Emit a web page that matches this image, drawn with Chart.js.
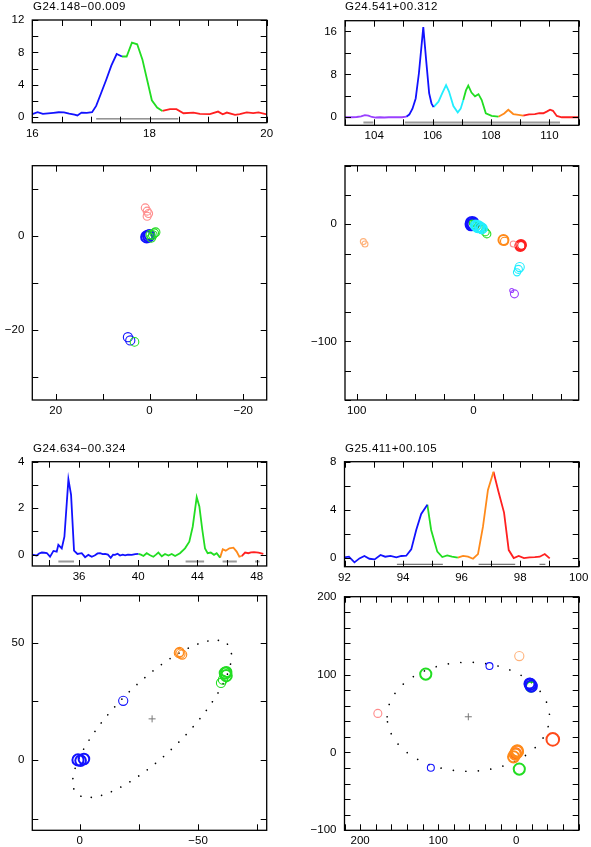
<!DOCTYPE html>
<html>
<head>
<meta charset="utf-8">
<script src="https://cdn.jsdelivr.net/npm/chart.js@4.4.0/dist/chart.umd.min.js"></script>
<style>
  html, body { margin: 0; padding: 0; background: #fff; }
  #page { position: relative; width: 591px; height: 847px; overflow: hidden; }
  canvas { position: absolute; left: -20px; top: -20px; }
  .ttl { position: absolute; z-index: 5; font: 11.5px "Liberation Sans", Arial, sans-serif; letter-spacing: 0.5px;
         line-height: 12px; white-space: nowrap; color: #000; }
</style>
</head>
<body>
<div id="page">
  <div class="ttl" style="left:33px;top:0px">G24.148−00.009</div>
  <div class="ttl" style="left:345px;top:0px">G24.541+00.312</div>
  <div class="ttl" style="left:33px;top:441.5px">G24.634−00.324</div>
  <div class="ttl" style="left:345px;top:441.5px">G25.411+00.105</div>
  <canvas id="s1" width="631" height="887"></canvas>
  <canvas id="s2" width="631" height="887"></canvas>
  <canvas id="m1" width="631" height="887"></canvas>
  <canvas id="m2" width="631" height="887"></canvas>
  <canvas id="s3" width="631" height="887"></canvas>
  <canvas id="s4" width="631" height="887"></canvas>
  <canvas id="m3" width="631" height="887"></canvas>
  <canvas id="m4" width="631" height="887"></canvas>
</div>
<script>
(function () {
  "use strict";

  // ---- spectra: [velocity km/s, flux Jy] per colour segment ----
  // G24.148-00.009
  const S1_BLUE = [[16.00,0.40],[16.09,0.62],[16.18,0.42],[16.27,0.48],[16.36,0.55],[16.45,0.62],[16.54,0.60],
    [16.63,0.45],[16.72,0.32],[16.77,0.22],[16.84,0.58],[16.93,0.55],[17.02,0.62],[17.09,1.4],[17.17,2.9],
    [17.26,4.6],[17.35,6.4],[17.44,7.8],[17.53,7.5]];
  const S1_GREEN = [[17.53,7.5],[17.61,7.5],[17.70,9.2],[17.79,9.0],[17.88,7.1],[17.96,4.6],[18.04,2.1],
    [18.13,1.2],[18.22,0.78]];
  const S1_RED = [[18.22,0.78],[18.35,1.0],[18.46,1.0],[18.58,0.5],[18.75,0.58],[18.86,0.42],[19.03,0.4],
    [19.17,0.7],[19.25,0.37],[19.32,0.58],[19.46,0.3],[19.54,0.4],[19.66,0.6],[19.77,0.5],[19.86,0.6],[20.0,0.37]];
  const S1_RANGE = [[17.09,-0.2],[18.49,-0.2]];

  // G24.541+00.312
  const S2_PURPLE = [[103.0,0.0],[103.2,0.0],[103.4,0.05],[103.55,0.15],[103.68,0.4],[103.8,0.3],[103.92,0.05],
    [104.05,-0.05],[104.2,0.0],[104.35,-0.05],[104.5,0.0],[104.65,0.0],[104.8,0.0],[104.95,0.0],[105.1,0.1]];
  const S2_BLUE = [[105.1,0.1],[105.2,0.5],[105.31,1.6],[105.42,3.5],[105.53,8.2],[105.68,16.8],[105.78,10.5],
    [105.88,4.5],[105.96,2.6],[106.03,1.9]];
  const S2_CYAN = [[106.03,1.9],[106.2,2.9],[106.33,4.5],[106.46,6.0],[106.56,4.8],[106.71,2.1],[106.86,0.9],
    [106.96,1.6],[107.05,3.2]];
  const S2_GREEN = [[107.05,3.2],[107.14,5.0],[107.22,5.9],[107.33,4.6],[107.45,3.9],[107.57,4.3],[107.68,3.2],
    [107.82,0.75],[108.02,0.25],[108.25,0.1]];
  const S2_ORANGE = [[108.25,0.1],[108.45,0.7],[108.59,1.4],[108.76,0.6],[108.94,0.45],[109.1,0.3]];
  const S2_RED = [[109.1,0.3],[109.3,0.55],[109.5,0.6],[109.65,0.75],[109.79,0.75],[109.92,1.1],[110.02,1.4],
    [110.12,1.2],[110.25,0.25],[110.42,0.0],[110.7,0.0],[111.0,0.0]];
  const S2_RANGE_A = [[103.63,-1.0],[103.97,-1.0]];
  const S2_RANGE_B = [[105.05,-1.0],[110.36,-1.0]];

  // G24.634-00.324
  const S3_BLUE = [[32.85,0.0],[33.0,-0.02],[33.14,-0.04],[33.3,0.05],[33.48,0.09],[33.65,0.08],[33.82,0.07],
    [34.04,-0.09],[34.27,0.16],[34.49,0.13],[34.60,0.42],[34.83,0.27],[35.01,0.77],[35.28,3.24],[35.46,2.57],
    [35.66,0.17],[35.89,0.03],[36.18,0.06],[36.41,-0.11],[36.63,-0.01],[36.86,-0.09],[37.08,-0.03],[37.25,0.05],
    [37.42,0.06],[37.6,0.02],[37.76,0.03],[37.95,0.0],[38.14,-0.14],[38.3,0.0],[38.43,-0.01],[38.6,0.04],
    [38.77,-0.04],[38.95,0.0],[39.11,-0.03],[39.3,0.0],[39.56,-0.01],[39.8,0.02],[40.01,0.03]];
  const S3_GREEN = [[40.01,0.03],[40.18,0.0],[40.35,-0.06],[40.57,0.06],[40.80,-0.03],[41.02,-0.09],[41.2,0.0],
    [41.36,0.09],[41.59,-0.07],[41.81,0.03],[42.04,-0.04],[42.26,0.03],[42.49,-0.06],[42.82,0.06],[43.16,0.27],
    [43.45,0.56],[43.68,1.2],[43.95,2.47],[44.13,2.07],[44.33,1.06],[44.51,0.27],[44.69,0.06],[44.90,0.09],
    [45.12,-0.01],[45.30,0.06],[45.53,-0.13]];
  const S3_ORANGE = [[45.53,-0.13],[45.71,0.23],[45.91,0.17],[46.16,0.27],[46.43,0.30],[46.65,0.13],[46.83,-0.09],
    [46.99,-0.06]];
  const S3_RED = [[46.99,-0.06],[47.22,0.09],[47.44,0.06],[47.62,0.1],[47.82,0.11],[48.12,0.09],[48.45,0.03]];
  const S3_RANGES = [[[34.6,-0.3],[35.66,-0.3]],[[43.2,-0.3],[44.45,-0.3]],[[45.7,-0.3],[46.66,-0.3]],
    [[47.9,-0.3],[48.2,-0.3]]];

  // G25.411+00.105
  const S4_BLUE = [[92.0,0.06],[92.15,0.11],[92.34,-0.36],[92.51,-0.03],[92.68,0.17],[92.85,-0.06],[93.03,-0.11],
    [93.23,0.25],[93.39,0.11],[93.57,0.17],[93.77,0.06],[93.94,0.17],[94.11,0.19],[94.28,0.72],[94.45,2.33],
    [94.62,3.66],[94.83,4.43]];
  const S4_GREEN = [[94.83,4.43],[94.96,2.33],[95.17,0.53],[95.34,0.08],[95.51,0.22],[95.67,0.11],[95.87,0.03]];
  const S4_ORANGE = [[95.87,0.03],[96.05,0.17],[96.22,0.11],[96.39,-0.06],[96.56,0.33],[96.73,2.6],[96.90,5.65],
    [97.09,7.17]];
  const S4_RED = [[97.09,7.17],[97.26,5.5],[97.45,3.77],[97.61,0.66],[97.78,0.0],[97.95,0.17],[98.13,0.0],
    [98.32,0.06],[98.50,0.08],[98.67,0.11],[98.84,0.33],[99.01,-0.03]];
  const S4_RANGES = [[[93.79,-0.52],[95.36,-0.52]],[[96.58,-0.52],[97.83,-0.52]],[[98.66,-0.52],[98.86,-0.52]]];

  // ---- spot maps: [RA offset mas, Dec offset mas, flux Jy] ----
  const M1_RED = [[0.9,6.0,2],[0.5,5.3,2],[0.2,4.8,2],[0.5,4.2,2]];
  const M1_GREEN = [[-0.4,-0.4,2.5],[-0.7,0.2,2.5],[-1.0,0.6,2.5],[-1.3,0.8,2.5],[-0.2,0.3,2.5],[3.2,-22.6,2.5]];
  const M1_BLUE = [[0.2,0.0,6],[0.6,-0.2,6],[0.0,0.2,4],[4.6,-21.6,3],[4.1,-22.3,3]];

  const M2_PALE_ORANGE = [[94.3,-14.8,1],[92.9,-16.8,1]];
  const M2_BLUE = [[1.2,0.8,11],[0.3,0.2,6],[2.0,-0.4,6]];
  const M2_GREEN = [[1.0,1.0,1],[-0.2,0.4,1],[-4,-3,2],[-7,-4.5,2],[-10,-6.5,2],[-11.4,-8.2,2]];
  const M2_CYAN = [[-3.7,-2,6],[-5.5,-2.5,4],[-7.1,-3.5,4],[-2,-1,4],[-39.5,-36.5,3],[-38.4,-38.5,2],[-37.2,-41,1.5]];
  const M2_ORANGE = [[-25.6,-13.4,4],[-26.5,-14.5,2]];
  const M2_PALE_RED = [[-34,-16.8,1]];
  const M2_RED = [[-40.6,-17.6,4],[-40,-18.5,4],[-41.2,-18,2]];
  const M2_PURPLE = [[-35,-59.4,2],[-32.7,-56.5,0.5]];

  const M3_BLUE = [[0.7,0.0,6],[-0.4,-0.3,5],[-1.8,0.4,5],[-18.4,25.2,3]];
  const M3_ORANGE = [[-41.9,45.6,3],[-42.6,45.3,3],[-43.3,44.9,3],[-42.2,46.0,3]];
  const M3_GREEN = [[-61.5,37.0,6],[-61.9,35.9,6],[-60.5,34.2,3],[-59.7,32.8,3],[-62.0,37.5,4]];
  const M3_CENTRE = [[-30.6,17.5]];
  const M3_ELLIPSE = [-30.6, 17.5, 45, 15, 135]; // centre x, y, semi-major, semi-minor, angle (deg)

  const M4_PALE_ORANGE = [[-3.9,123.8,3]];
  const M4_BLUE = [[34.3,110.9,1.4],[109.4,-19.7,1.4],[-18,87.4,6],[-19.3,85.2,6],[-17,88.5,4]];
  const M4_GREEN = [[115.9,100.6,6],[-3.9,-21.4,6],[-18.9,84.4,4]];
  const M4_PALE_RED = [[177.3,50.1,2]];
  const M4_ORANGE = [[-0.9,0.9,8],[1.3,-2.1,6],[3.4,-5.6,6],[-1.5,2.0,6]];
  const M4_RED = [[-46.8,16.7,10],[0.5,-1.0,4]];
  const M4_CENTRE = [[61.4,45.8]];
  const M4_ELLIPSE = [61.4, 45.8, 104, 70, 0];

  // ---- ticks (labelled values) ----
  const S1_XT = [16, 18, 20], S1_YT = [0, 4, 8, 12];
  const S2_XT = [104, 106, 108, 110], S2_YT = [0, 8, 16];
  const M1_XT = [20, 0, -20], M1_YT = [0, -20];
  const M2_XT = [100, 0], M2_YT = [0, -100];
  const S3_XT = [36, 40, 44, 48], S3_YT = [0, 2, 4];
  const S4_XT = [92, 94, 96, 98, 100], S4_YT = [0, 4, 8];
  const M3_XT = [0, -50], M3_YT = [0, 50];
  const M4_XT = [200, 100, 0], M4_YT = [-100, 0, 100, 200];

  const COL = {
    blue: "#1212ff", green: "#22dd22", red: "#ff2020", orange: "#ff8a1a", cyan: "#22eeff",
    purple: "#9a40ff", paleOrange: "#ffb27a", paleRed: "#ff8c8c", grey: "#9a9a9a", dark: "#555555",
  };
  // canvases are 20px larger on every side than the page so axis labels are never clipped
  const OFF = 20, CW = 631, CH = 887, AXW = 45, AXH = 22;

  Chart.defaults.font.family = '"Liberation Sans", Arial, sans-serif';
  Chart.defaults.font.size = 11.5;
  Chart.defaults.color = "#000";

  function stepsIn(lo, hi, step) {
    const out = [];
    for (let k = Math.ceil(lo / step - 1e-9); k * step <= hi + 1e-9; k++) out.push(k * step);
    return out;
  }

  // box + inward ticks on all four sides, optional dotted ellipse
  const framePlugin = {
    id: "frame",
    beforeDatasetsDraw(chart, args, opts) {
      if (!opts.ellipse) return;
      const { ctx, scales: { x, y } } = chart;
      const [cx, cy, a, b, th] = opts.ellipse;
      const t0 = th * Math.PI / 180;
      ctx.save();
      ctx.beginPath();
      for (let i = 0; i <= 360; i++) {
        const t = i / 360 * 2 * Math.PI;
        const ex = cx + a * Math.cos(t) * Math.cos(t0) - b * Math.sin(t) * Math.sin(t0);
        const ey = cy + a * Math.cos(t) * Math.sin(t0) + b * Math.sin(t) * Math.cos(t0);
        const px = x.getPixelForValue(ex), py = y.getPixelForValue(ey);
        if (i) ctx.lineTo(px, py); else ctx.moveTo(px, py);
      }
      ctx.setLineDash([0.01, opts.dotGap || 10]);
      ctx.lineCap = "round";
      ctx.lineWidth = 1.7;
      ctx.strokeStyle = "#000";
      ctx.stroke();
      ctx.restore();
    },
    afterDraw(chart, args, opts) {
      const { ctx, chartArea: a, scales: { x, y } } = chart;
      const L = 6;
      ctx.save();
      ctx.strokeStyle = "#000";
      ctx.lineWidth = 1;
      ctx.beginPath();
      stepsIn(x.min, x.max, opts.xStep).forEach((v) => {
        const px = Math.round(x.getPixelForValue(v)) + 0.5;
        ctx.moveTo(px, a.top); ctx.lineTo(px, a.top + L);
        ctx.moveTo(px, a.bottom); ctx.lineTo(px, a.bottom - L);
      });
      stepsIn(y.min, y.max, opts.yStep).forEach((v) => {
        const py = Math.round(y.getPixelForValue(v)) + 0.5;
        ctx.moveTo(a.left, py); ctx.lineTo(a.left + L, py);
        ctx.moveTo(a.right, py); ctx.lineTo(a.right - L, py);
      });
      ctx.stroke();
      ctx.lineWidth = 1.3;
      ctx.strokeRect(a.left, a.top, a.right - a.left, a.bottom - a.top);
      ctx.restore();
    },
  };

  const fmt = (v) => String(v).replace("-", "\u2212");

  // box = [left, top, right, bottom] of the plot frame in page pixels
  function panel(id, type, box, xr, yr, xTicks, yTicks, steps, datasets, extra) {
    const l = box[0] + OFF, t = box[1] + OFF, r = box[2] + OFF, b = box[3] + OFF;
    new Chart(document.getElementById(id), {
      type: type,
      data: { datasets: datasets },
      options: {
        responsive: false,
        animation: false,
        events: [],
        layout: { padding: { left: l - AXW, top: t, right: CW - r, bottom: CH - b - AXH } },
        plugins: {
          legend: { display: false },
          tooltip: { enabled: false },
          frame: Object.assign({ xStep: steps[0], yStep: steps[1] }, extra || {}),
        },
        scales: {
          x: {
            type: "linear", min: Math.min(xr[0], xr[1]), max: Math.max(xr[0], xr[1]), reverse: xr[0] > xr[1],
            afterBuildTicks: (s) => { s.ticks = xTicks.map((v) => ({ value: v })); },
            afterFit: (s) => { s.height = AXH; },
            grid: { display: false, drawTicks: false }, border: { display: false },
            ticks: { padding: 4, autoSkip: false, maxRotation: 0, callback: fmt },
          },
          y: {
            type: "linear", min: yr[0], max: yr[1],
            afterBuildTicks: (s) => { s.ticks = yTicks.map((v) => ({ value: v })); },
            afterFit: (s) => { s.width = AXW; },
            grid: { display: false, drawTicks: false }, border: { display: false },
            ticks: { padding: 8, autoSkip: false, callback: fmt },
          },
        },
      },
      plugins: [framePlugin],
    });
  }

  function seg(points, color, width) {
    return {
      data: points.map((p) => ({ x: p[0], y: p[1] })),
      borderColor: color, borderWidth: width || 1.8, pointRadius: 0, tension: 0, fill: false,
    };
  }

  function spots(points, color) {
    return {
      data: points.map((p) => ({ x: p[0], y: p[1], f: p[2] })),
      pointStyle: "circle",
      pointBackgroundColor: "rgba(0,0,0,0)",
      pointBorderColor: color,
      pointRadius: (c) => 3 + Math.log2(c.raw.f),
      pointBorderWidth: (c) => (c.raw.f >= 4 ? 2 : 1.1),
    };
  }

  function centre(points) {
    return {
      data: points.map((p) => ({ x: p[0], y: p[1] })),
      pointStyle: "cross", pointRadius: 3.5, pointBorderWidth: 1, pointBorderColor: "#777",
    };
  }

  // Row 1 spectra
  panel("s1", "line", [32.3, 20, 266.7, 122.7], [16, 20], [-0.67, 12], S1_XT, S1_YT, [0.5, 2], [
    seg(S1_RANGE, COL.dark, 1),
    seg(S1_BLUE, COL.blue), seg(S1_GREEN, COL.green), seg(S1_RED, COL.red),
  ]);
  panel("s2", "line", [345, 20.7, 578.7, 125.3], [103, 111], [-1.5, 18], S2_XT, S2_YT, [1, 4], [
    seg(S2_RANGE_A, COL.grey, 2), seg(S2_RANGE_B, COL.grey, 2),
    seg(S2_PURPLE, COL.purple), seg(S2_BLUE, COL.blue), seg(S2_CYAN, COL.cyan),
    seg(S2_GREEN, COL.green), seg(S2_ORANGE, COL.orange), seg(S2_RED, COL.red),
  ]);

  // Row 2 maps
  panel("m1", "scatter", [32.3, 165.7, 266.7, 400], [25, -25], [-35, 15], M1_XT, M1_YT, [10, 10], [
    spots(M1_RED, COL.paleRed), spots(M1_GREEN, COL.green), spots(M1_BLUE, COL.blue),
  ]);
  panel("m2", "scatter", [345, 165.7, 578.7, 400], [110, -90], [-150, 50], M2_XT, M2_YT, [25, 25], [
    spots(M2_PALE_ORANGE, COL.paleOrange), spots(M2_CYAN, COL.cyan), spots(M2_GREEN, COL.green),
    spots(M2_BLUE, COL.blue), spots(M2_ORANGE, COL.orange), spots(M2_PALE_RED, COL.paleRed),
    spots(M2_RED, COL.red), spots(M2_PURPLE, COL.purple),
  ]);

  // Row 3 spectra
  panel("s3", "line", [32.3, 461.7, 266.7, 566], [32.84, 48.68], [-0.49, 4], S3_XT, S3_YT, [2, 1], [
    ...S3_RANGES.map((r) => seg(r, COL.grey, 2)),
    seg(S3_BLUE, COL.blue), seg(S3_GREEN, COL.green), seg(S3_ORANGE, COL.orange), seg(S3_RED, COL.red),
  ]);
  panel("s4", "line", [344.5, 461.7, 578.7, 566.7], [92, 100], [-0.72, 8], S4_XT, S4_YT, [1, 2], [
    ...S4_RANGES.map((r) => seg(r, COL.dark, 1)),
    seg(S4_BLUE, COL.blue), seg(S4_GREEN, COL.green), seg(S4_ORANGE, COL.orange), seg(S4_RED, COL.red),
  ]);

  // Row 4 maps with fitted ellipses
  panel("m3", "scatter", [32.3, 595.7, 266.7, 830.3], [20, -79], [-30, 70], M3_XT, M3_YT, [25, 25], [
    centre(M3_CENTRE), spots(M3_BLUE, COL.blue), spots(M3_ORANGE, COL.orange), spots(M3_GREEN, COL.green),
  ], { ellipse: M3_ELLIPSE, dotGap: 10.5 });
  panel("m4", "scatter", [344.5, 596.7, 578.7, 830.3], [220, -80], [-100, 200], M4_XT, M4_YT, [20, 20], [
    centre(M4_CENTRE), spots(M4_PALE_ORANGE, COL.paleOrange), spots(M4_PALE_RED, COL.paleRed),
    spots(M4_BLUE, COL.blue), spots(M4_GREEN, COL.green), spots(M4_ORANGE, COL.orange), spots(M4_RED, "#ff4a1a"),
  ], { ellipse: M4_ELLIPSE, dotGap: 12.5 });
})();
</script>
</body>
</html>
